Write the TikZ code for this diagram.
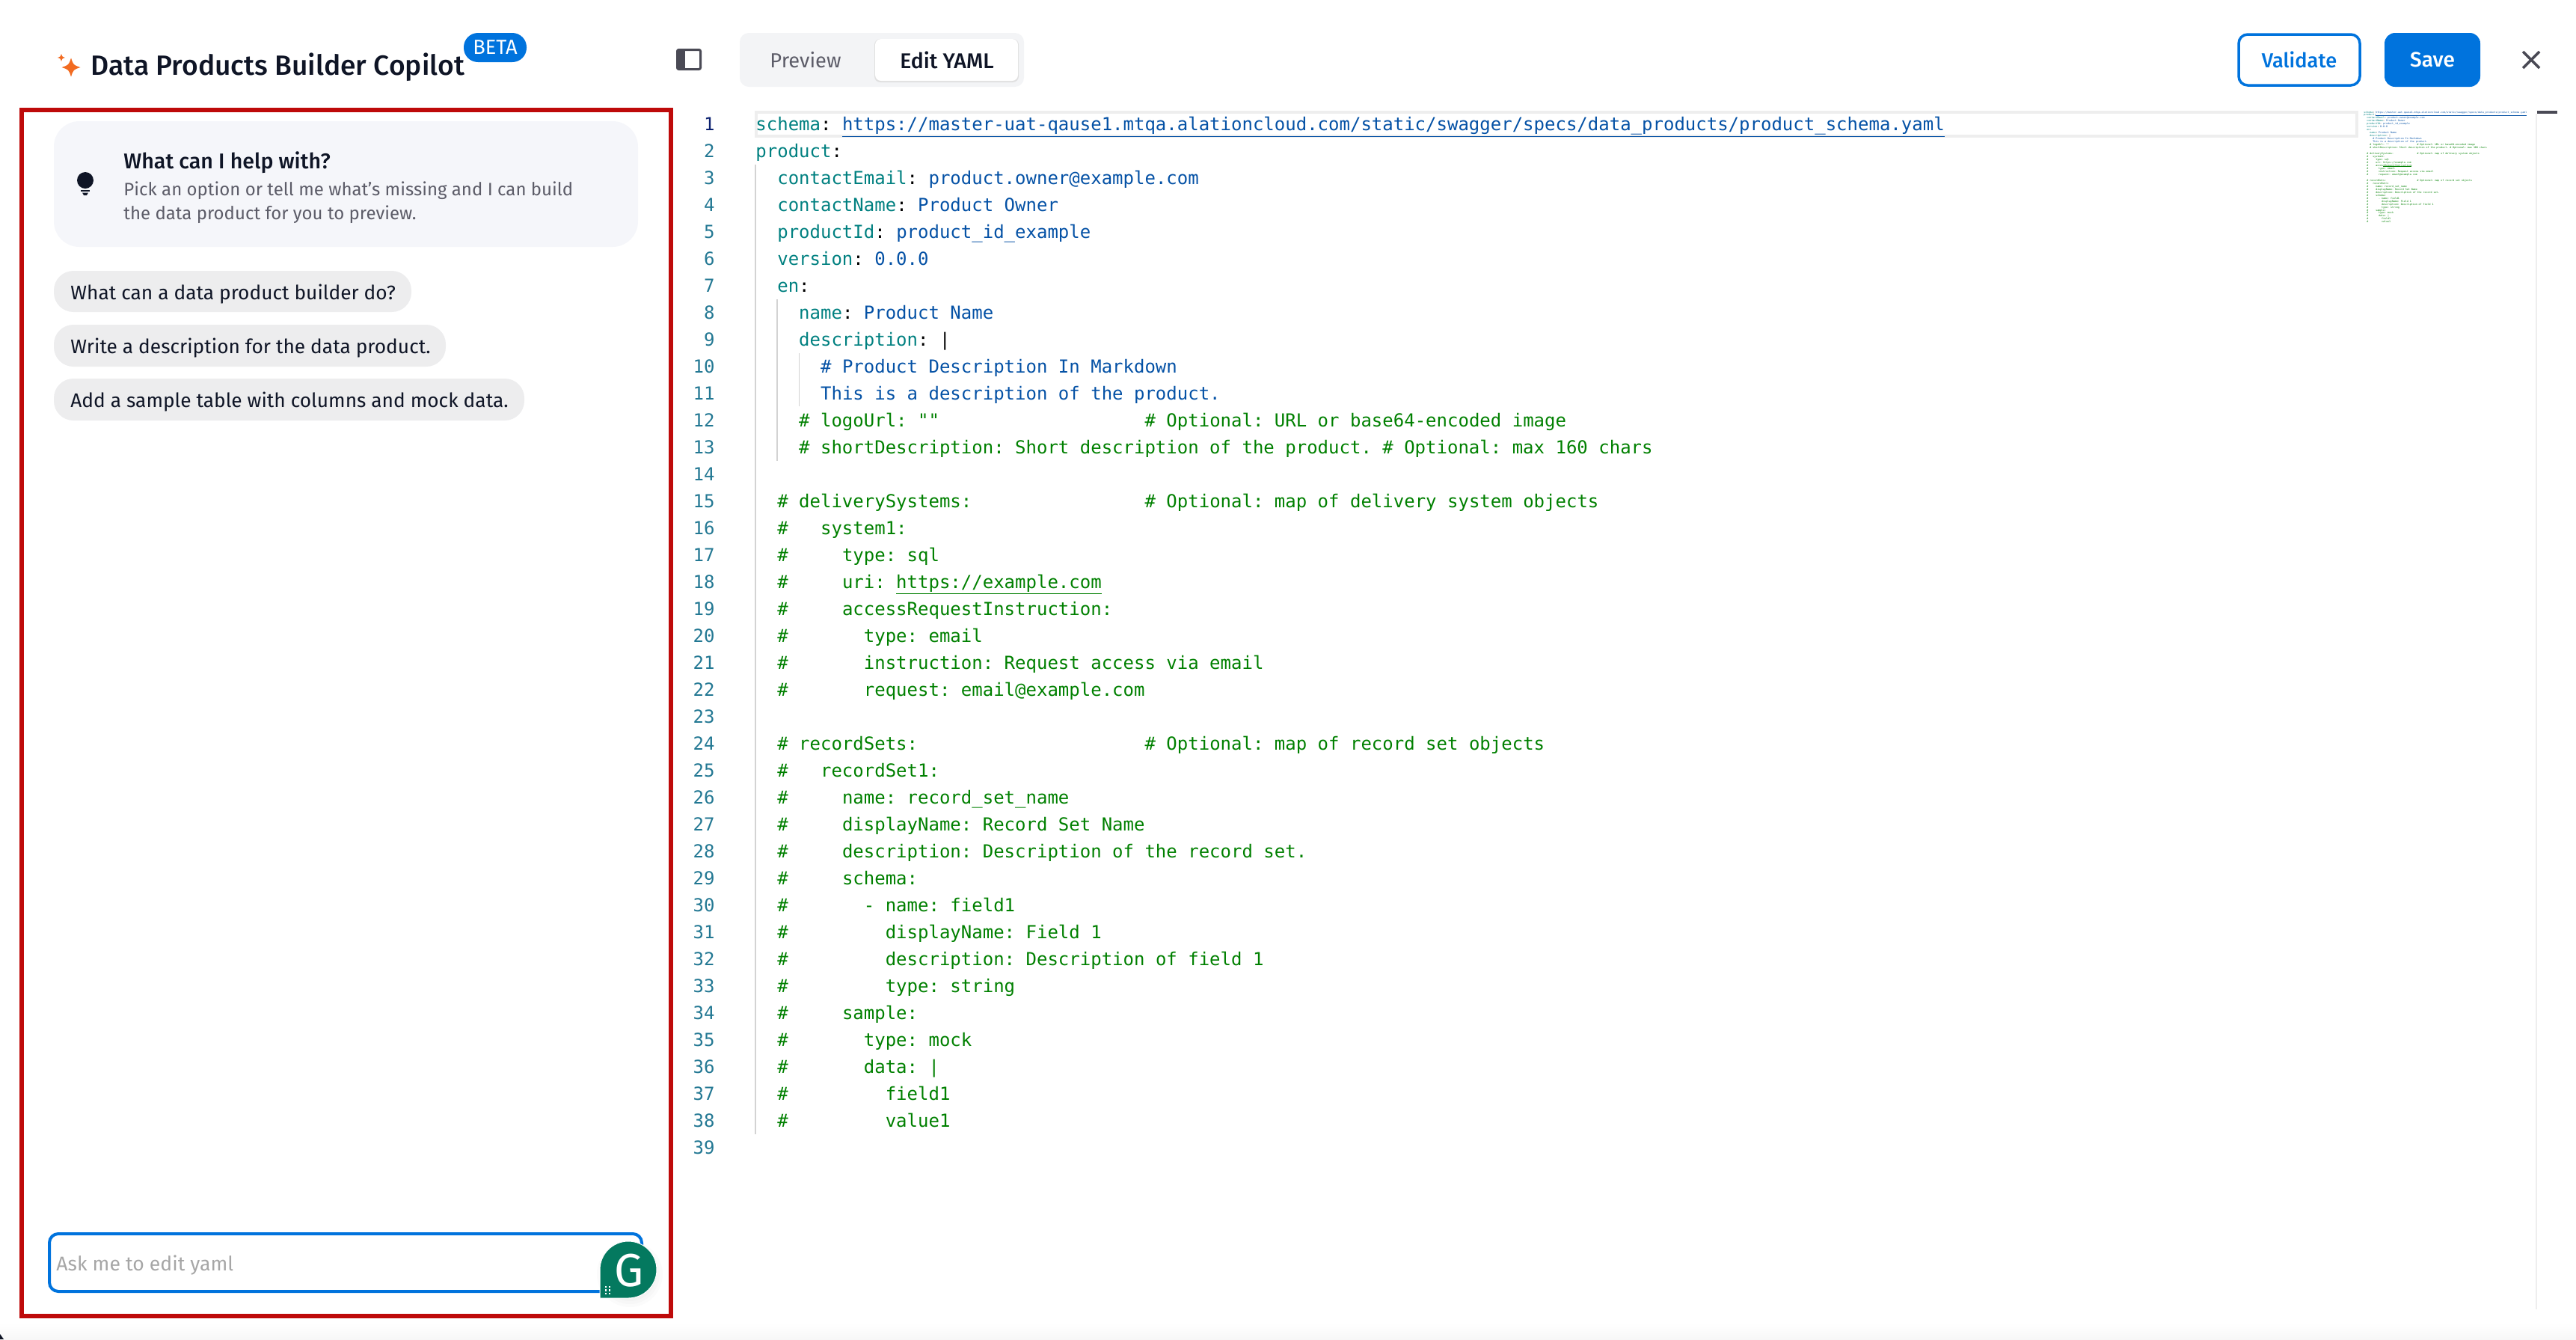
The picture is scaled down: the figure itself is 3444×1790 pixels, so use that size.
\documentclass[tikz,border=0pt]{standalone}
\usepackage{fontspec}
\setmainfont{Fira Sans}[BoldFont={Fira Sans Medium}]
\newfontfamily\codefont{DejaVu Sans Mono}
\frenchspacing
\definecolor{linkblue}{HTML}{0073DD}
\definecolor{framered}{HTML}{BE0A0A}
\definecolor{inkdark}{HTML}{0F1526}
\definecolor{inkgray}{HTML}{5C5C68}
\definecolor{iconGray}{HTML}{4A4A55}
\definecolor{chipgray}{HTML}{EDEDEE}
\definecolor{cardgray}{HTML}{F5F6FA}
\definecolor{tabgray}{HTML}{F3F4F6}
\definecolor{keyteal}{HTML}{008080}
\definecolor{valblue}{HTML}{0451A5}
\definecolor{comgreen}{HTML}{008000}
\definecolor{numblue}{HTML}{237893}
\definecolor{numdark}{HTML}{0B216F}
\definecolor{guidegray}{HTML}{D3D3D3}
\definecolor{linegray}{HTML}{EEEEEE}
\definecolor{gramgreen}{HTML}{04795F}
\definecolor{staror}{HTML}{F26B21}
\newcommand{\ykey}[1]{\textcolor{keyteal}{#1}}
\newcommand{\yval}[1]{\textcolor{valblue}{#1}}
\newcommand{\ycom}[1]{\textcolor{comgreen}{#1}}
\tikzset{
  codetext/.style={anchor=base west,inner sep=0pt,font=\codefont\frenchspacing\fontsize{12}{12}\selectfont},
  minitext/.style={anchor=base west,inner sep=0pt,font=\codefont\frenchspacing\fontsize{1.645}{2}\selectfont},
  numtext/.style={anchor=base east,inner sep=0pt,text=numblue,font=\codefont\fontsize{12}{12}\selectfont},
  chiptext/.style={anchor=west,inner sep=0pt,text=inkdark,font=\fontsize{13.15}{13.15}\selectfont},
  chipfill/.style={fill=chipgray,rounded corners=13pt},
  guide/.style={guidegray,line width=1pt}
}
% one line of yaml, in the editor and in the minimap
\newcommand{\codeline}[2]{
  \node[codetext] (line#1) at (1010,{174+36*(#1-1)}) {#2};
  \node[minitext] (mini#1) at (3160,{151+3.97*(#1-1)}) {#2};
}
\begin{document}
\begin{tikzpicture}[x=.5pt,y=-.5pt]
  \useasboundingbox (0,0) rectangle (3444,1790);
  \shade[top color=white,bottom color=black!3,draw=none] (0,1768) rectangle (3444,1790);
  \fill[inkdark] (0,1783) -- (5,1790) -- (0,1790) -- cycle;

  % header left
  \foreach \cx/\cy/\r in {95/90/12.5,82/77/5}
    \fill[staror] (\cx-\r,\cy) .. controls (\cx-.25*\r,\cy-.25*\r) .. (\cx,\cy-\r)
      .. controls (\cx+.25*\r,\cy-.25*\r) .. (\cx+\r,\cy)
      .. controls (\cx+.25*\r,\cy+.25*\r) .. (\cx,\cy+\r)
      .. controls (\cx-.25*\r,\cy+.25*\r) .. cycle;
  \node[anchor=west,inner sep=0pt,text=inkdark,font=\bfseries\fontsize{18.6}{18.6}\selectfont] (title) at (121,90) {Data Products Builder Copilot};
  \path[fill=linkblue,rounded corners=9.5pt] (620,44) rectangle (704,83);
  \node[text=white,inner sep=0pt,font=\fontsize{13.6}{13.6}\selectfont] (beta) at (662,63) {BETA};
  \draw[iconGray,line width=1.5pt,rounded corners=1pt] (905.5,66.5) rectangle (936.5,92.5);
  \fill[iconGray] (905.5,66.5) rectangle (916,92.5);

  % tabs
  \path[fill=tabgray,rounded corners=6pt] (989,44) rectangle (1369,116);
  \path[fill=black!12,rounded corners=4pt] (1169,52) rectangle (1362,110);
  \path[fill=white,rounded corners=4pt] (1170,52) rectangle (1361,108);
  \node[text=inkgray,inner sep=0pt,font=\fontsize{13.6}{13.6}\selectfont] (preview) at (1077,80) {Preview};
  \node[text=inkdark,inner sep=0pt,font=\bfseries\fontsize{14.2}{14.2}\selectfont] (edityaml) at (1266,80) {Edit YAML};

  % header right
  \draw[linkblue,line width=1.75pt,rounded corners=6pt] (2993,46) rectangle (3155,114);
  \node[text=linkblue,inner sep=0pt,font=\bfseries\fontsize{13.6}{13.6}\selectfont] (validate) at (3074,80) {Validate};
  \path[fill=linkblue,rounded corners=7pt] (3188,44) rectangle (3316,116);
  \node[text=white,inner sep=0pt,font=\bfseries\fontsize{14}{14}\selectfont] (save) at (3252,80) {Save};
  \draw[iconGray,line width=1.75pt] (3373,69) -- (3395,91);
  \draw[iconGray,line width=1.75pt] (3395,69) -- (3373,91);

  % left panel
  \path[fill=cardgray,rounded corners=17pt] (72,162) rectangle (853,330);
  \fill[inkdark] (114,241) circle (11);
  \fill[inkdark] (108,253.5) rectangle (120,256);
  \fill[inkdark] (110,257.5) -- (118,257.5) -- (116,261) -- (112,261) -- cycle;
  \node[anchor=west,inner sep=0pt,text=inkdark,font=\bfseries\fontsize{14.3}{14.3}\selectfont] (helptitle) at (165,217) {What can I help with?};
  \node[anchor=west,inner sep=0pt,text=inkgray,font=\fontsize{12}{12}\selectfont] (helpline1) at (165,255) {Pick an option or tell me what's missing and I can build};
  \node[anchor=west,inner sep=0pt,text=inkgray,font=\fontsize{12}{12}\selectfont] (helpline2) at (165,287) {the data product for you to preview.};

  \path[chipfill] (72,362) rectangle (550,417);
  \node[chiptext] (chip1) at (94,393) {What can a data product builder do?};
  \path[chipfill] (72,434) rectangle (596,490);
  \node[chiptext] (chip2) at (94,465) {Write a description for the data product.};
  \path[chipfill] (72,506) rectangle (701,562);
  \node[chiptext] (chip3) at (94,537) {Add a sample table with columns and mock data.};

  \draw[linkblue,line width=2pt,rounded corners=6pt] (66,1649) rectangle (858,1726);
  \node[anchor=west,inner sep=0pt,text=black!35,font=\fontsize{13.3}{13.3}\selectfont] (askme) at (75,1691) {Ask me to edit yaml};

  \foreach \s in {44,40,36,32,28,24}
    \fill[black,opacity=.015] (842,1703) circle (\s);
  \draw[fill=gramgreen,draw=white,line width=.5pt] (802,1735) -- (802,1697) arc[start angle=180,end angle=450,radius=38] -- cycle;
  \node[text=white,inner sep=0pt,font=\fontsize{31}{31}\selectfont] (gram) at (841,1698) {G};
  \foreach \dx in {810,815}
    \foreach \dy in {1720,1724.5,1729}
      \fill[white] (\dx-1.3,\dy-1.3) rectangle (\dx+1.3,\dy+1.3);

  \draw[framered,line width=3pt] (29,147) rectangle (897,1759);

  % editor
  \draw[linegray,line width=2pt] (1011,150) rectangle (3151,182);
  \draw[guide] (1010,220) -- (1010,1516);
  \draw[guide] (1039,400) -- (1039,616);
  \draw[guide,line width=.5pt] (1068,472) -- (1068,543);
  \draw[linegray,line width=.75pt] (3391,152) -- (3391,1750);
  \fill[iconGray] (3392,148) rectangle (3419,152);

  \foreach \n in {2,...,39}
    \node[numtext] (num\n) at (956,{174+36*(\n-1)}) {\n};
  \node[numtext,text=numdark] (num1) at (956,174) {1};

  \codeline{1}{\ykey{schema}: \yval{\underline{https://master-uat-qause1.mtqa.alationcloud.com/static/swagger/specs/data\_products/product\_schema.yaml}}}
  \codeline{2}{\ykey{product}:}
  \codeline{3}{~~\ykey{contactEmail}: \yval{product.owner@example.com}}
  \codeline{4}{~~\ykey{contactName}: \yval{Product Owner}}
  \codeline{5}{~~\ykey{productId}: \yval{product\_id\_example}}
  \codeline{6}{~~\ykey{version}: \yval{0.0.0}}
  \codeline{7}{~~\ykey{en}:}
  \codeline{8}{~~~~\ykey{name}: \yval{Product Name}}
  \codeline{9}{~~~~\ykey{description}: |}
  \codeline{10}{~~~~~~\yval{\# Product Description In Markdown}}
  \codeline{11}{~~~~~~\yval{This is a description of the product.}}
  \codeline{12}{~~~~\ycom{\# logoUrl: ""~~~~~~~~~~~~~~~~~~~\# Optional: URL or base64-encoded image}}
  \codeline{13}{~~~~\ycom{\# shortDescription: Short description of the product. \# Optional: max 160 chars}}
  \codeline{15}{~~\ycom{\# deliverySystems:~~~~~~~~~~~~~~~~\# Optional: map of delivery system objects}}
  \codeline{16}{~~\ycom{\#~~~system1:}}
  \codeline{17}{~~\ycom{\#~~~~~type: sql}}
  \codeline{18}{~~\ycom{\#~~~~~uri: \underline{https://example.com}}}
  \codeline{19}{~~\ycom{\#~~~~~accessRequestInstruction:}}
  \codeline{20}{~~\ycom{\#~~~~~~~type: email}}
  \codeline{21}{~~\ycom{\#~~~~~~~instruction: Request access via email}}
  \codeline{22}{~~\ycom{\#~~~~~~~request: email@example.com}}
  \codeline{24}{~~\ycom{\# recordSets:~~~~~~~~~~~~~~~~~~~~~\# Optional: map of record set objects}}
  \codeline{25}{~~\ycom{\#~~~recordSet1:}}
  \codeline{26}{~~\ycom{\#~~~~~name: record\_set\_name}}
  \codeline{27}{~~\ycom{\#~~~~~displayName: Record Set Name}}
  \codeline{28}{~~\ycom{\#~~~~~description: Description of the record set.}}
  \codeline{29}{~~\ycom{\#~~~~~schema:}}
  \codeline{30}{~~\ycom{\#~~~~~~~- name: field1}}
  \codeline{31}{~~\ycom{\#~~~~~~~~~displayName: Field 1}}
  \codeline{32}{~~\ycom{\#~~~~~~~~~description: Description of field 1}}
  \codeline{33}{~~\ycom{\#~~~~~~~~~type: string}}
  \codeline{34}{~~\ycom{\#~~~~~sample:}}
  \codeline{35}{~~\ycom{\#~~~~~~~type: mock}}
  \codeline{36}{~~\ycom{\#~~~~~~~data: |}}
  \codeline{37}{~~\ycom{\#~~~~~~~~~field1}}
  \codeline{38}{~~\ycom{\#~~~~~~~~~value1}}
\end{tikzpicture}
\end{document}
